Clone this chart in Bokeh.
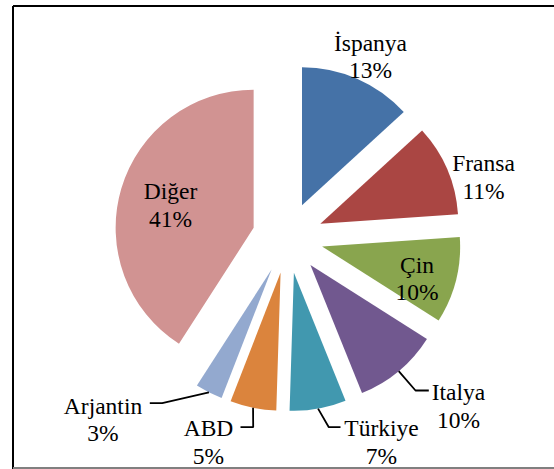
import math
from bokeh.plotting import figure
from bokeh.models import Range1d, ColumnDataSource
from bokeh.core.properties import value
from bokeh.embed import file_html
from bokeh.resources import INLINE

# ---- data ----
countries = ["İspanya", "Fransa", "Çin", "Italya", "Türkiye", "ABD", "Arjantin", "Diğer"]
shares = [13.2, 10.7, 10.1, 9.9, 6.6, 5.4, 3.2, 40.9]
colors = ["#4572A7", "#AA4643", "#89A54E", "#71588F", "#4198AF", "#DB843D", "#93A9CF", "#D19392"]

# ---- layout (pixels from the picture's top-left corner) ----
W, H = 554, 469
CX, CY = 287.2, 237.3
EXPLODE = 35.5
RADIUS = 138.0
FONT = "Liberation Serif"
FONT_SIZE = "23.5px"
LINE_GAP = 27.5
label_pos = [(370, 42), (483, 162.5), (416.5, 264), (458, 391.7),
             (381, 427.7), (208, 427.7), (102.5, 405), (170, 190.5)]
# leader lines: elbow and end points, keyed by slice index
leaders = {3: [(415, 390), (428.3, 390)],
           4: [(328.3, 426.7), (340, 426.7)],
           5: [(252.7, 426.7), (240, 426.7)],
           6: [(161.7, 402.7), (149.3, 402.7)]}

p = figure(width=W, height=H, output_backend="svg", toolbar_location=None,
           x_range=Range1d(0, W), y_range=Range1d(-H, 0),
           x_axis_type=None, y_axis_type=None, min_border=0,
           outline_line_color=None, background_fill_color="white",
           border_fill_color="white")
p.grid.visible = False

total = sum(shares)
xs, ys, starts, ends, bis = [], [], [], [], []
cum = 0.0
for v in shares:
    t1 = cum / total * 360.0
    t2 = (cum + v) / total * 360.0
    b = math.radians((t1 + t2) / 2)
    bis.append(b)
    xs.append(CX + EXPLODE * math.sin(b))
    ys.append(-(CY - EXPLODE * math.cos(b)))
    starts.append(math.radians(90 - t2))
    ends.append(math.radians(90 - t1))
    cum += v

src = ColumnDataSource(dict(x=xs, y=ys, start=starts, end=ends, color=colors))
p.wedge(x="x", y="y", radius=RADIUS, start_angle="start", end_angle="end",
        fill_color="color", line_color=None, source=src)

# leader lines
lx, ly = [], []
for i, pts in leaders.items():
    sx = CX + (EXPLODE + RADIUS) * math.sin(bis[i])
    sy = CY - (EXPLODE + RADIUS) * math.cos(bis[i])
    lx.append([sx] + [q[0] for q in pts])
    ly.append([-sy] + [-q[1] for q in pts])
p.multi_line(lx, ly, line_color="black", line_width=1.8)

# labels
pct = [f"{100 * v / total:.0f}%" for v in shares]
p.text(x=[q[0] for q in label_pos], y=[-q[1] for q in label_pos], text=countries,
       text_font=value(FONT), text_font_size=FONT_SIZE, text_align="center",
       text_baseline="alphabetic", text_color="black")
p.text(x=[q[0] for q in label_pos], y=[-(q[1] + LINE_GAP) for q in label_pos], text=pct,
       text_font=value(FONT), text_font_size=FONT_SIZE, text_align="center",
       text_baseline="alphabetic", text_color="black")

# chart-area frame
p.multi_line([[12.5, 12.5], [12.5, W]], [[-5.5, -H], [-5.5, -5.5]],
             line_color="black", line_width=2)
p.line([12.5, W], [-467.5, -467.5], line_color="#808080", line_width=2)

open("out.html", "w").write(file_html(p, INLINE))
